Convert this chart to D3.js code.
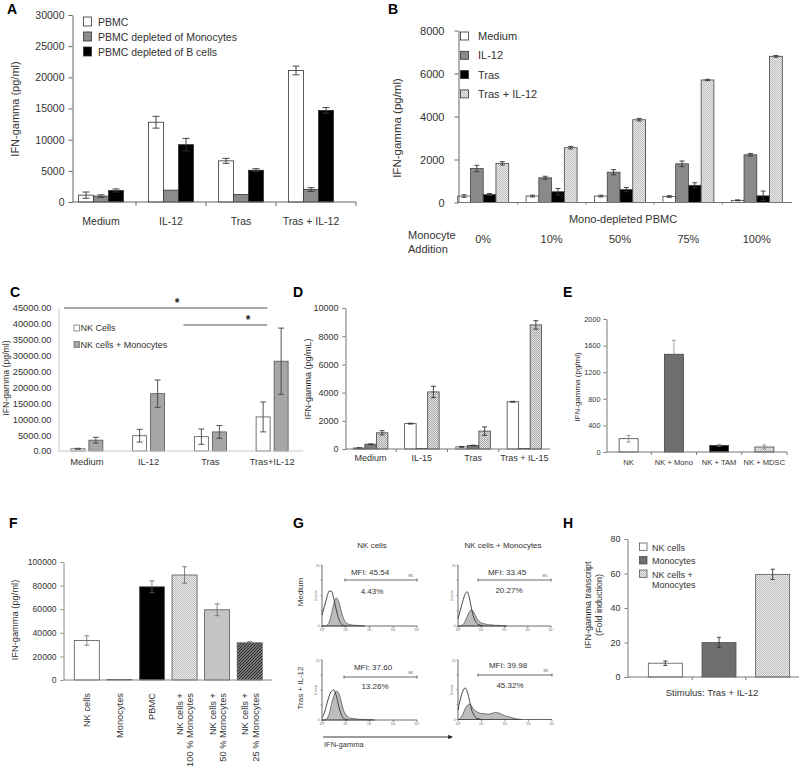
<!DOCTYPE html>
<html><head><meta charset="utf-8">
<script src="https://cdn.jsdelivr.net/npm/d3@7"></script>
<style>
body{margin:0;background:#fff}
svg{display:block}
</style>
</head><body>
<svg id="fig" width="800" height="767"></svg>
<script>
// ---------------- DATA ----------------
// Panel A
const aCategories = ["Medium", "IL-12", "Tras", "Tras + IL-12"];
const aSeries = ["PBMC", "PBMC depleted of Monocytes", "PBMC depleted of B cells"];
const aPBMC = [1100, 12800, 6600, 21100];
const aPBMCErr = [500, 950, 400, 700];
const aMonoDepleted = [950, 1900, 1200, 2000];
const aMonoDepletedErr = [200, 0, 0, 300];
const aBDepleted = [1850, 9200, 5100, 14700];
const aBDepletedErr = [250, 1000, 250, 450];
const aTicks = [0, 5000, 10000, 15000, 20000, 25000, 30000];

// Panel B
const bGroups = ["0%", "10%", "50%", "75%", "100%"];
const bSeries = ["Medium", "IL-12", "Tras", "Tras + IL-12"];
const bMedium = [300, 300, 300, 280, 100];
const bMediumErr = [60, 40, 40, 40, 20];
const bIL12 = [1580, 1150, 1410, 1800, 2220];
const bIL12Err = [150, 70, 120, 130, 60];
const bTras = [370, 500, 600, 800, 310];
const bTrasErr = [50, 150, 100, 120, 220];
const bTrasIL12 = [1820, 2550, 3850, 5700, 6800];
const bTrasIL12Err = [80, 60, 60, 30, 40];
const bTicks = [0, 2000, 4000, 6000, 8000];

// Panel C
const cCategories = ["Medium", "IL-12", "Tras", "Tras+IL-12"];
const cSeries = ["NK Cells", "NK cells + Monocytes"];
const cNK = [700, 4800, 4500, 10700];
const cNKErr = [150, 2000, 2400, 4700];
const cNKMono = [3400, 18000, 6000, 28200];
const cNKMonoErr = [900, 4300, 2000, 10400];
const cTicks = [0, 5000, 10000, 15000, 20000, 25000, 30000, 35000, 40000, 45000];

// Panel D
const dCategories = ["Medium", "IL-15", "Tras", "Tras + IL-15"];
const dSeries = ["NK cells", "Monocytes", "NK cells + Monocytes"];
const dNK = [70, 1800, 150, 3350];
const dNKErr = [20, 30, 30, 30];
const dMono = [340, 30, 250, 30];
const dMonoErr = [20, 0, 20, 0];
const dNKMono = [1150, 4050, 1270, 8800];
const dNKMonoErr = [150, 400, 300, 300];
const dTicks = [0, 2000, 4000, 6000, 8000, 10000];

// Panel E
const eCategories = ["NK", "NK + Mono", "NK + TAM", "NK + MDSC"];
const eValues = [200, 1470, 100, 75];
const eErr = [50, 210, 15, 30];
const eTicks = [0, 400, 800, 1200, 1600, 2000];

// Panel F
const fCategories = [["NK cells"], ["Monocytes"], ["PBMC"], ["NK cells +", "100 % Monocytes"], ["NK cells +", "50 % Monocytes"], ["NK cells +", "25 % Monocytes"]];
const fValues = [33500, 500, 79000, 89000, 59500, 31500];
const fErr = [4000, 0, 5000, 7000, 5000, 1000];
const fTicks = [0, 20000, 40000, 60000, 80000, 100000];

// Panel G (flow histograms; bins in log10 decades, counts in % of axis)
const gBins = [0,0.1,0.2,0.3,0.4,0.5,0.6,0.7,0.8,0.9,1.0,1.1,1.2,1.3,1.4,1.5,1.6,1.7,1.8,1.9,2.0,2.1,2.2,2.3,2.4,2.5,2.6,2.7];
const gNKMediumOpen   = [18,32,46,57,57,44,27,12,4,1,0];
const gNKMediumFilled = [0,0,1,6,20,37,46,40,26,13,6,3,2,1.5,1,1,0.5,0.5,0];
const gNKMonoMediumOpen   = [12,26,40,52,56,44,25,12,5,2,1,0];
const gNKMonoMediumFilled = [0,0,2,7,16,24,26,21,13,8,5,4,3,2,2,1.5,1,1,1,0.5,0.5,0];
const gNKTrasOpen   = [4,12,26,40,48,50,41,24,10,3,1,0];
const gNKTrasFilled = [0,0,2,10,26,40,48,45,32,17,9,5,3,2.5,2,1.5,1,1,1,0.5,0.5,0.5,0];
const gNKMonoTrasOpen   = [16,34,47,53,46,30,14,6,2,1,0];
const gNKMonoTrasFilled = [0,2,8,18,24,26,21,16,13,11,10,10,9,9,10,11,12,11,10,8,6,5,4,3,2,1,0.5,0];
const gMFI = ["MFI: 45.54", "MFI: 33.45", "MFI: 37.60", "MFI: 39.98"];
const gPct = ["4.43%", "20.27%", "13.26%", "45.32%"];
const gDecadeLabels = ["10⁰", "10¹", "10²", "10³", "10⁴"];

// Panel H
const hCategories = ["NK cells", "Monocytes", "NK cells + Monocytes"];
const hValues = [8, 20, 59.5];
const hErr = [1.3, 3, 3];
const hTicks = [0, 20, 40, 60, 80];

// ---------------- DRAWING ----------------
const FONT = '"Liberation Sans", Arial, Helvetica, sans-serif';
const TXT = "#333";
const svg = d3.select("#fig").attr("font-family", FONT);
const defs = svg.append("defs");

function pattern(id, w, h, draw) {
  const p = defs.append("pattern").attr("id", id).attr("patternUnits", "userSpaceOnUse")
    .attr("width", w).attr("height", h);
  draw(p);
}
pattern("chk", 2, 2, p => {
  p.append("rect").attr("width", 2).attr("height", 2).attr("fill", "#e2e2e2");
  p.append("rect").attr("width", 1).attr("height", 1).attr("fill", "#a9a9a9");
  p.append("rect").attr("x", 1).attr("y", 1).attr("width", 1).attr("height", 1).attr("fill", "#a9a9a9");
});
pattern("chkLight", 2, 2, p => {
  p.append("rect").attr("width", 2).attr("height", 2).attr("fill", "#ececec");
  p.append("rect").attr("width", 1).attr("height", 1).attr("fill", "#bdbdbd");
  p.append("rect").attr("x", 1).attr("y", 1).attr("width", 1).attr("height", 1).attr("fill", "#bdbdbd");
});
pattern("hatchDark", 3, 3, p => {
  p.append("rect").attr("width", 3).attr("height", 3).attr("fill", "#9a9a9a");
  p.append("path").attr("d", "M-1,1 L1,-1 M0,3 L3,0 M2,4 L4,2").attr("stroke", "#222").attr("stroke-width", 1.1);
});
const marker = defs.append("marker").attr("id", "arrow").attr("viewBox", "0 0 6 6")
  .attr("refX", 5).attr("refY", 3).attr("markerWidth", 5).attr("markerHeight", 5).attr("orient", "auto");
marker.append("path").attr("d", "M0,0 L6,3 L0,6 Z").attr("fill", "#222");

function txt(g, x, y, s, fs, anchor = "start", weight = "normal") {
  return g.append("text").attr("x", x).attr("y", y).attr("font-size", fs)
    .attr("text-anchor", anchor).attr("font-weight", weight).attr("fill", TXT).text(s);
}
function vtxt(g, x, yc, s, fs, anchor = "middle") {
  return g.append("text").attr("transform", `translate(${x},${yc}) rotate(-90)`)
    .attr("y", fs * 0.35).attr("font-size", fs).attr("text-anchor", anchor).attr("fill", TXT).text(s);
}
function letter(x, y, s) { txt(svg, x, y, s, 14, "start", "bold").attr("fill", "#000"); }

function leftAxis(g, y, x, ticks, fmt, fs, o = {}) {
  const ax = g.append("g").attr("transform", `translate(${x},0)`)
    .call(d3.axisLeft(y).tickValues(ticks).tickFormat(fmt)
      .tickSize(o.tick ?? 4).tickSizeOuter(0).tickPadding(o.pad ?? 3));
  ax.attr("font-family", FONT);
  ax.select(".domain").attr("stroke", o.color || "#666");
  ax.selectAll(".tick line").attr("stroke", o.color || "#666");
  ax.selectAll(".tick text").attr("font-size", fs).attr("fill", TXT);
  return ax;
}
function baseLine(g, x1, x2, y, seps, color = "#666", tk = 4) {
  g.append("line").attr("x1", x1).attr("x2", x2).attr("y1", y).attr("y2", y).attr("stroke", color);
  seps.forEach(s => g.append("line").attr("x1", s).attr("x2", s).attr("y1", y).attr("y2", y + tk).attr("stroke", color));
}
function bars(g, rows, y, o = {}) {
  g.selectAll(null).data(rows).join("rect")
    .attr("x", d => d.x).attr("width", d => d.w)
    .attr("y", d => y(d.v)).attr("height", d => y(0) - y(d.v))
    .attr("fill", d => d.fill).attr("stroke", o.stroke || "#333").attr("stroke-width", o.sw ?? 0.8);
  const cap = o.cap ?? 3;
  const eb = rows.filter(d => d.e > 0);
  g.selectAll(null).data(eb).join("path")
    .attr("d", d => {
      const cx = d.x + d.w / 2, t = y(d.v + d.e), b = y(Math.max(0, d.v - d.e));
      return `M${cx},${t}V${b}M${cx - cap},${t}H${cx + cap}M${cx - cap},${b}H${cx + cap}`;
    })
    .attr("fill", "none").attr("stroke", o.ecolor || "#333").attr("stroke-width", o.esw ?? 0.9);
}
function separators(x) { return x.domain().slice(1).map(d => x(d)); }

// ===== Panel A =====
{
  const g = svg.append("g");
  const y = d3.scaleLinear().domain([0, 30000]).range([202, 15]);
  const x = d3.scaleBand().domain(aCategories).range([66, 346]);
  const s = d3.scaleBand().domain(aSeries).range([-22.5, 22.5]);
  const vals = [aPBMC, aMonoDepleted, aBDepleted], errs = [aPBMCErr, aMonoDepletedErr, aBDepletedErr];
  const fills = ["#fff", "#8c8c8c", "#000"];
  const rows = aSeries.flatMap((se, i) => aCategories.map((c, j) => ({
    x: x(c) + x.bandwidth() / 2 + s(se), w: s.bandwidth(), v: vals[i][j], e: errs[i][j], fill: fills[i]
  })));
  bars(g, rows, y, { cap: 3.5 });
  leftAxis(g, y, 72.5, aTicks, d3.format("d"), 10.5, { pad: 4 });
  baseLine(g, 72.5, 356, 202, separators(x).concat([356]));
  aCategories.forEach(c => txt(g, x(c) + x.bandwidth() / 2, 225, c, 10.5, "middle"));
  vtxt(g, 15, 109, "IFN-gamma (pg/ml)", 11);
  aSeries.forEach((se, i) => {
    const yy = 21.5 + i * 15;
    g.append("rect").attr("x", 83.5).attr("y", yy - 4.5).attr("width", 8).attr("height", 9)
      .attr("fill", fills[i]).attr("stroke", "#333").attr("stroke-width", 0.8);
    txt(g, 98, yy + 4, se, 10.5);
  });
  letter(7, 14, "A");
}

// ===== Panel B =====
{
  const g = svg.append("g");
  const y = d3.scaleLinear().domain([0, 8000]).range([202.5, 30.5]);
  const x = d3.scaleBand().domain(bGroups).range([449, 791]);
  const s = d3.scaleBand().domain(bSeries).range([-25.5, 25.5]);
  const vals = [bMedium, bIL12, bTras, bTrasIL12], errs = [bMediumErr, bIL12Err, bTrasErr, bTrasIL12Err];
  const fills = ["#fff", "#8a8a8a", "#000", "url(#chkLight)"];
  const rows = bSeries.flatMap((se, i) => bGroups.map((c, j) => ({
    x: x(c) + x.bandwidth() / 2 + s(se), w: s.bandwidth(), v: vals[i][j], e: errs[i][j], fill: fills[i]
  })));
  bars(g, rows, y, { cap: 2.5, stroke: "#444" });
  leftAxis(g, y, 458.5, bTicks, d3.format("d"), 11, { pad: 10 });
  baseLine(g, 458.5, 792, 202.5, separators(x), "#777", 2);
  vtxt(g, 397, 128, "IFN-gamma (pg/ml)", 11.5);
  txt(g, 623, 223, "Mono-depleted PBMC", 11, "middle");
  txt(g, 408, 239, "Monocyte", 11);
  txt(g, 408, 253, "Addition", 11);
  bGroups.forEach(c => txt(g, x(c) + x.bandwidth() / 2, 243, c, 11, "middle"));
  bSeries.forEach((se, i) => {
    const yy = 36 + i * 19.3;
    g.append("rect").attr("x", 460.5).attr("y", yy - 4).attr("width", 8).attr("height", 8)
      .attr("fill", fills[i]).attr("stroke", "#333").attr("stroke-width", 0.8);
    txt(g, 478, yy + 4, se, 11);
  });
  letter(388, 14, "B");
}

// ===== Panel C =====
{
  const g = svg.append("g");
  const y = d3.scaleLinear().domain([0, 45000]).range([451, 307.7]);
  const x = d3.scaleBand().domain(cCategories).range([56, 303]);
  const vals = [cNK, cNKMono], errs = [cNKErr, cNKMonoErr];
  const fills = ["#fff", "#a6a6a6"];
  const offs = [-16, 2];
  const rows = cSeries.flatMap((se, i) => cCategories.map((c, j) => ({
    x: x(c) + x.bandwidth() / 2 + offs[i], w: 14, v: vals[i][j], e: errs[i][j], fill: fills[i]
  })));
  bars(g, rows, y, { cap: 3, stroke: "#555", ecolor: "#444" });
  leftAxis(g, y, 58.5, cTicks, d3.format(".2f"), 9.3, { tick: 0, pad: 7, color: "#c8c8c8" });
  baseLine(g, 58.5, 303, 451, [], "#c8c8c8");
  cCategories.forEach(c => txt(g, x(c) + x.bandwidth() / 2, 465, c, 9.3, "middle"));
  vtxt(g, 6, 378, "IFN-gamma  (pg/ml)", 8.7);
  // significance bars
  g.append("line").attr("x1", x("Medium") + 8).attr("x2", x("Tras+IL-12") + 26).attr("y1", 308).attr("y2", 308).attr("stroke", "#555").attr("stroke-width", 1.2);
  txt(g, 177, 307, "*", 12, "middle", "bold").attr("fill", "#222");
  g.append("line").attr("x1", x("Tras") + 4).attr("x2", x("Tras+IL-12") + 26).attr("y1", 325).attr("y2", 325).attr("stroke", "#555").attr("stroke-width", 1.2);
  txt(g, 248, 324, "*", 12, "middle", "bold").attr("fill", "#222");
  cSeries.forEach((se, i) => {
    const yy = 328 + i * 16.5;
    g.append("rect").attr("x", 74).attr("y", yy - 3).attr("width", 5.5).attr("height", 6)
      .attr("fill", fills[i]).attr("stroke", "#666").attr("stroke-width", 0.7);
    txt(g, 80.5, yy + 3.3, se, 9);
  });
  letter(10, 297, "C");
}

// ===== Panel D =====
{
  const g = svg.append("g");
  const y = d3.scaleLinear().domain([0, 10000]).range([449, 308]);
  const x = d3.scaleBand().domain(dCategories).range([345, 550]);
  const s = d3.scaleBand().domain(dSeries).range([-17.25, 17.25]);
  const vals = [dNK, dMono, dNKMono], errs = [dNKErr, dMonoErr, dNKMonoErr];
  const fills = ["#fff", "#7a7a7a", "url(#chk)"];
  const rows = dSeries.flatMap((se, i) => dCategories.map((c, j) => ({
    x: x(c) + x.bandwidth() / 2 + s(se), w: s.bandwidth(), v: vals[i][j], e: errs[i][j], fill: fills[i]
  })));
  bars(g, rows, y, { cap: 2.5, stroke: "#444" });
  leftAxis(g, y, 345.5, dTicks, d3.format("d"), 9, { tick: 3, pad: 4, color: "#777" });
  baseLine(g, 345.5, 550, 449, separators(x), "#777", 3);
  dCategories.forEach(c => txt(g, x(c) + x.bandwidth() / 2, 461, c, 9, "middle"));
  vtxt(g, 308, 379, "IFN-gamma (pg/mL)", 9);
  letter(293, 297, "D");
}

// ===== Panel E =====
{
  const g = svg.append("g");
  const y = d3.scaleLinear().domain([0, 2000]).range([452, 319]);
  const x = d3.scaleBand().domain(eCategories).range([606, 787]);
  const fills = ["#fff", "#6e6e6e", "#000", "url(#chkLight)"];
  const rows = eCategories.map((c, j) => ({
    x: x(c) + x.bandwidth() / 2 - 9.5, w: 19, v: eValues[j], e: eErr[j], fill: fills[j]
  }));
  bars(g, rows, y, { cap: 2, stroke: "#444", ecolor: "#777", esw: 0.7 });
  leftAxis(g, y, 606.5, eTicks, d3.format("d"), 7.3, { tick: 3, pad: 3, color: "#777" });
  baseLine(g, 606.5, 787, 452, separators(x).concat([787]), "#777", 3);
  eCategories.forEach(c => txt(g, x(c) + x.bandwidth() / 2, 465, c, 7.6, "middle"));
  vtxt(g, 577, 387, "IFN-gamma (pg/ml)", 8);
  letter(563, 297, "E");
}

// ===== Panel F =====
{
  const g = svg.append("g");
  const y = d3.scaleLinear().domain([0, 100000]).range([680, 562]);
  const keys = fCategories.map(d => d.join(" "));
  const x = d3.scaleBand().domain(keys).range([70.5, 266]);
  const fills = ["#fff", "#8c8c8c", "#000", "url(#chkLight)", "#c4c4c4", "url(#hatchDark)"];
  const rows = keys.map((c, j) => ({
    x: x(c) + x.bandwidth() / 2 - 12.5, w: 25, v: fValues[j], e: fErr[j], fill: fills[j]
  }));
  bars(g, rows, y, { cap: 2.5, stroke: "#555", ecolor: "#666", esw: 0.8 });
  leftAxis(g, y, 63.5, fTicks, d3.format("d"), 8.6, { tick: 3, pad: 4, color: "#888" });
  baseLine(g, 63.5, 272, 680, [], "#888");
  vtxt(g, 15, 620, "IFN-gamma (pg/ml)", 9.3);
  fCategories.forEach((lines, j) => {
    const cx = x(keys[j]) + x.bandwidth() / 2;
    const t = g.append("text").attr("transform", `translate(${cx},693) rotate(-90)`)
      .attr("font-size", 9.3).attr("text-anchor", "end").attr("fill", TXT);
    if (lines.length === 1) {
      t.append("tspan").attr("x", 0).attr("y", 3.3).text(lines[0]);
    } else {
      t.append("tspan").attr("x", 0).attr("y", -1.5).text(lines[0]);
      t.append("tspan").attr("x", 0).attr("y", 8.8).text(lines[1]);
    }
  });
  letter(9, 528, "F");
}

// ===== Panel G =====
{
  const g = svg.append("g");
  txt(g, 372, 548, "NK cells", 8, "middle");
  txt(g, 503, 548, "NK cells + Monocytes", 8, "middle");
  vtxt(g, 300, 592, "Medium", 8);
  vtxt(g, 300, 688, "Tras + IL-12", 8);
  const panels = [
    { x0: 322, x1: 417, top: 565, base: 626, open: gNKMediumOpen, filled: gNKMediumFilled, gy: 580, gx: 345, ty: 572, py: 591, tx: 370 },
    { x0: 458, x1: 551, top: 565, base: 626, open: gNKMonoMediumOpen, filled: gNKMonoMediumFilled, gy: 580, gx: 478, ty: 572, py: 590, tx: 507 },
    { x0: 322, x1: 417, top: 660, base: 720, open: gNKTrasOpen, filled: gNKTrasFilled, gy: 677, gx: 344, ty: 667, py: 686, tx: 373 },
    { x0: 458, x1: 552, top: 660, base: 719.5, open: gNKMonoTrasOpen, filled: gNKMonoTrasFilled, gy: 675, gx: 478, ty: 665, py: 685, tx: 508 }
  ];
  panels.forEach((p, i) => {
    const hx = d3.scaleLinear().domain([0, 4]).range([p.x0, p.x1]);
    const hy = d3.scaleLinear().domain([0, 100]).range([p.base, p.top]);
    const fpts = p.filled.map((v, k) => [gBins[k], v]);
    const opts = p.open.map((v, k) => [gBins[k], v]);
    g.append("path").datum(fpts)
      .attr("d", d3.area().x(d => hx(d[0])).y0(hy(0)).y1(d => hy(d[1])).curve(d3.curveMonotoneX))
      .attr("fill", "#bdbdbd").attr("stroke", "#444").attr("stroke-width", 0.7);
    g.append("path").datum(opts)
      .attr("d", d3.line().x(d => hx(d[0])).y(d => hy(d[1])).curve(d3.curveMonotoneX))
      .attr("fill", "none").attr("stroke", "#333").attr("stroke-width", 0.9);
    // axes
    g.append("path").attr("d", `M${p.x0},${p.top}V${p.base}H${p.x1}`).attr("fill", "none").attr("stroke", "#444").attr("stroke-width", 0.8);
    gDecadeLabels.forEach((lab, k) => {
      const xx = hx(k);
      g.append("line").attr("x1", xx).attr("x2", xx).attr("y1", p.base).attr("y2", p.base + 2).attr("stroke", "#444").attr("stroke-width", 0.6);
      txt(g, xx, p.base + 5, lab, 3.5, "middle").attr("fill", "#666");
    });
    [0, 25, 50, 75, 100].forEach(v => g.append("line").attr("x1", p.x0 - 1.5).attr("x2", p.x0)
      .attr("y1", hy(v)).attr("y2", hy(v)).attr("stroke", "#444").attr("stroke-width", 0.5));
    txt(g, p.x0 - 2.5, p.top + 2, "25", 3.2, "end").attr("fill", "#666");
    txt(g, p.x0 - 2.5, p.base + 1, "0", 3.2, "end").attr("fill", "#666");
    vtxt(g, p.x0 - 6, (p.top + p.base) / 2, "Events", 3.5).attr("fill", "#666");
    // gate
    g.append("path").attr("d", `M${p.gx},${p.gy - 1.5}V${p.gy + 1.5}M${p.gx},${p.gy}H${p.x1}M${p.x1},${p.gy - 1.5}V${p.gy + 1.5}`)
      .attr("fill", "none").attr("stroke", "#444").attr("stroke-width", 0.8);
    txt(g, p.x1 - 6, p.gy - 3, "M1", 3.5, "middle").attr("fill", "#555");
    txt(g, p.tx, p.ty + 3, gMFI[i], 8, "middle");
    txt(g, p.tx + 2, p.py + 3, gPct[i], 8, "middle");
  });
  g.append("line").attr("x1", 323).attr("x2", 452).attr("y1", 737).attr("y2", 737)
    .attr("stroke", "#222").attr("stroke-width", 0.9).attr("marker-end", "url(#arrow)");
  txt(g, 324, 747, "IFN-gamma", 7.5);
  letter(293, 528, "G");
}

// ===== Panel H =====
{
  const g = svg.append("g");
  const y = d3.scaleLinear().domain([0, 80]).range([677, 539]);
  const x = d3.scaleBand().domain(hCategories).range([638.5, 799.5]);
  const fills = ["#fff", "#6e6e6e", "url(#chkLight)"];
  const rows = hCategories.map((c, j) => ({
    x: x(c) + x.bandwidth() / 2 - 17, w: 34, v: hValues[j], e: hErr[j], fill: fills[j]
  }));
  bars(g, rows, y, { cap: 2, stroke: "#555", ecolor: "#333", esw: 0.9 });
  leftAxis(g, y, 627.5, hTicks, d3.format("d"), 9, { tick: 3, pad: 4, color: "#777" });
  baseLine(g, 627.5, 799, 677, separators(x), "#777", 3);
  txt(g, 712, 696, "Stimulus:  Tras + IL-12", 9.5, "middle");
  vtxt(g, 588, 605, "IFN-gamma transcript", 9);
  vtxt(g, 599, 605, "(Fold induction)", 9);
  const legLines = [["NK cells"], ["Monocytes"], ["NK cells +", "Monocytes"]];
  hCategories.forEach((c, i) => {
    const yy = 547 + i * 13.5;
    g.append("rect").attr("x", 639.5).attr("y", yy - 4).attr("width", 7.5).attr("height", 7.5)
      .attr("fill", fills[i]).attr("stroke", "#444").attr("stroke-width", 0.7);
    legLines[i].forEach((l, k) => txt(g, 652, yy + 3.5 + k * 10.5, l, 9));
  });
  letter(563, 528, "H");
}
</script>
</body></html>
